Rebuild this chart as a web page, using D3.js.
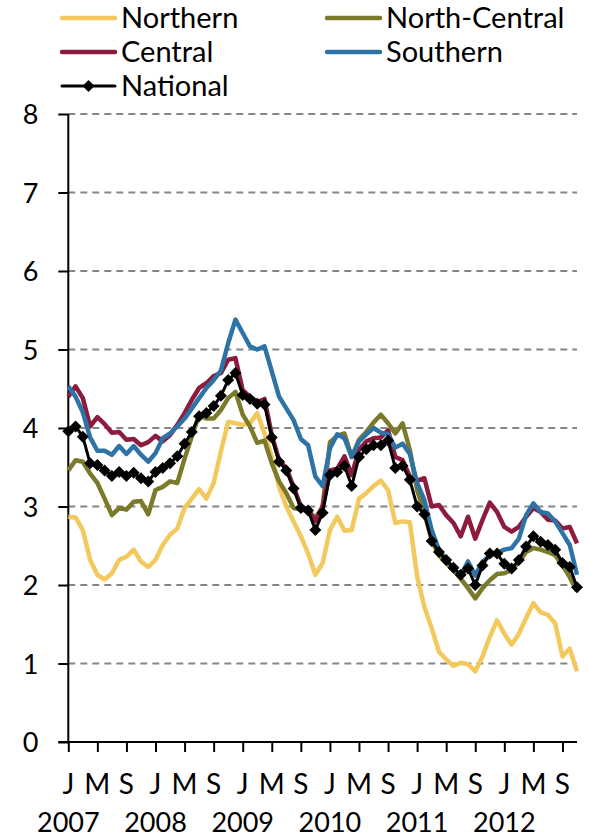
<!DOCTYPE html>
<html>
<head>
<meta charset="utf-8">
<script src="https://cdn.jsdelivr.net/npm/d3@7"></script>
<style>
  body { margin: 0; background: #fff; }
  text { font-family: Lato, "Open Sans", sans-serif; fill: #000; }
</style>
</head>
<body>
<div id="chart"></div>
<script>
// Monthly values, Jan 2007 - Nov 2012
var northern = [2.87, 2.86, 2.70, 2.32, 2.13, 2.07, 2.15, 2.32, 2.36, 2.45, 2.30, 2.23,
                2.32, 2.51, 2.64, 2.72, 2.98, 3.10, 3.22, 3.10, 3.30, 3.70, 4.08, 4.06,
                4.04, 4.06, 4.19, 3.93, 3.63, 3.25, 3.00, 2.81, 2.62, 2.40, 2.13, 2.28,
                2.70, 2.87, 2.69, 2.70, 3.10, 3.17, 3.26, 3.33, 3.21, 2.79, 2.81, 2.80,
                2.11, 1.72, 1.45, 1.15, 1.05, 0.97, 1.01, 0.99, 0.90, 1.09, 1.34, 1.55,
                1.38, 1.24, 1.38, 1.58, 1.77, 1.65, 1.62, 1.51, 1.09, 1.19, 0.90];
var northCentral = [3.46, 3.59, 3.57, 3.42, 3.30, 3.10, 2.89, 2.98, 2.96, 3.06, 3.07, 2.90,
                    3.21, 3.25, 3.32, 3.30, 3.61, 3.89, 4.17, 4.12, 4.12, 4.23, 4.38, 4.46,
                    4.17, 4.02, 3.81, 3.84, 3.55, 3.32, 3.17, 2.98, 2.96, 2.95, 2.85, 3.00,
                    3.82, 3.90, 3.93, 3.63, 3.85, 3.95, 4.07, 4.17, 4.06, 3.93, 4.06, 3.72,
                    3.21, 2.92, 2.57, 2.38, 2.28, 2.19, 2.08, 1.96, 1.83, 1.96, 2.06, 2.14,
                    2.15, 2.19, 2.29, 2.42, 2.47, 2.45, 2.42, 2.38, 2.25, 2.10, 1.92];
var central = [4.40, 4.53, 4.38, 4.02, 4.14, 4.05, 3.94, 3.95, 3.85, 3.86, 3.78, 3.82,
               3.90, 3.83, 3.91, 4.04, 4.19, 4.36, 4.51, 4.57, 4.66, 4.70, 4.87, 4.89,
               4.48, 4.40, 4.33, 4.37, 3.91, 3.59, 3.49, 3.25, 3.00, 2.96, 2.81, 3.00,
               3.46, 3.48, 3.64, 3.40, 3.72, 3.83, 3.87, 3.88, 3.97, 3.63, 3.59, 3.38,
               3.33, 3.36, 3.00, 3.02, 2.89, 2.79, 2.62, 2.87, 2.59, 2.83, 3.05, 2.93,
               2.74, 2.68, 2.74, 2.87, 2.98, 2.93, 2.83, 2.82, 2.72, 2.74, 2.53];
var southern = [4.53, 4.40, 4.20, 3.88, 3.71, 3.71, 3.66, 3.77, 3.67, 3.77, 3.66, 3.57,
                3.68, 3.87, 3.93, 4.02, 4.12, 4.25, 4.38, 4.51, 4.61, 4.73, 5.08, 5.38,
                5.21, 5.04, 5.00, 5.04, 4.72, 4.40, 4.25, 4.10, 3.86, 3.78, 3.38, 3.26,
                3.74, 3.92, 3.87, 3.63, 3.83, 3.92, 4.00, 3.94, 3.92, 3.75, 3.80, 3.67,
                3.30, 3.08, 2.70, 2.45, 2.32, 2.21, 2.12, 2.30, 2.12, 2.30, 2.37, 2.41,
                2.45, 2.47, 2.59, 2.89, 3.04, 2.93, 2.91, 2.81, 2.66, 2.51, 2.13];
var national = [3.96, 4.02, 3.89, 3.55, 3.53, 3.46, 3.39, 3.44, 3.39, 3.43, 3.36, 3.32,
                3.44, 3.49, 3.55, 3.64, 3.80, 3.95, 4.15, 4.19, 4.28, 4.41, 4.61, 4.70,
                4.42, 4.37, 4.31, 4.30, 3.88, 3.57, 3.46, 3.23, 2.98, 2.95, 2.70, 2.92,
                3.40, 3.44, 3.52, 3.26, 3.63, 3.73, 3.78, 3.78, 3.84, 3.49, 3.52, 3.34,
                3.00, 2.90, 2.56, 2.42, 2.32, 2.22, 2.13, 2.21, 2.00, 2.25, 2.40, 2.40,
                2.27, 2.21, 2.32, 2.49, 2.62, 2.55, 2.51, 2.45, 2.28, 2.23, 1.97];

var seriesNames = ["Northern", "North-Central", "Central", "Southern", "National"];
var monthLetters = ["J", "M", "S"];
var years = ["2007", "2008", "2009", "2010", "2011", "2012"];
var yTicks = [0, 1, 2, 3, 4, 5, 6, 7, 8];

var colors = ["#f3c85c", "#7b7a2a", "#8c1b3d", "#2e73a5", "#000000"];
var allSeries = [northern, northCentral, central, southern, national];

var width = 589,
    height = 838;

var svg = d3.select("#chart")
    .append("svg")
    .attr("width", width)
    .attr("height", height);

// Scales: month index on x, value on y
var x = d3.scaleLinear()
    .domain([0, northern.length - 1])
    .range([68.3, 577]);

var y = d3.scaleLinear()
    .domain([0, 8])
    .range([742, 114]);

// Dashed gridlines
svg.append("g")
    .selectAll("line")
    .data(yTicks.filter(d => d > 0))
    .enter()
    .append("line")
    .attr("x1", x(0))
    .attr("x2", x(northern.length - 1))
    .attr("y1", d => y(d))
    .attr("y2", d => y(d))
    .attr("stroke", "#868686")
    .attr("stroke-width", 2)
    .attr("stroke-dasharray", "7,5");

// Y axis
var yAxis = svg.append("g")
    .attr("transform", "translate(" + x(0) + ",0)")
    .call(d3.axisLeft(y).tickValues(yTicks).tickSize(10).tickPadding(20).tickFormat(d3.format("d")));

// X axis: tick every 4 months
var tickIdx = d3.range(0, northern.length, 4);
var xAxis = svg.append("g")
    .attr("transform", "translate(0," + y(0) + ")")
    .call(d3.axisBottom(x).tickValues(tickIdx).tickSize(10).tickFormat(""));

[yAxis, xAxis].forEach(function(ax) {
    ax.select(".domain").attr("stroke", "#000").attr("stroke-width", 2);
    ax.selectAll(".tick line").attr("stroke", "#000").attr("stroke-width", 2);
});
yAxis.select(".domain").attr("d", "M0," + y(8) + "V" + y(0));
xAxis.select(".domain").attr("d", "M" + (x(0) - 10) + ",0H" + x(northern.length - 1));

yAxis.selectAll(".tick text")
    .attr("font-size", 27)
    .attr("font-family", "Lato, sans-serif")
    .attr("fill", "#000")
    .attr("dy", "0.36em");

// Month letters and years under the axis
svg.append("g")
    .selectAll("text")
    .data(tickIdx)
    .enter()
    .append("text")
    .attr("x", d => x(d))
    .attr("y", 794)
    .attr("text-anchor", "middle")
    .style("font-size", "28px")
    .text((d, i) => monthLetters[i % 3]);

svg.append("g")
    .selectAll("text")
    .data(years)
    .enter()
    .append("text")
    .attr("x", (d, i) => x(i * 12))
    .attr("y", 832)
    .attr("text-anchor", "middle")
    .style("font-size", "27px")
    .text(d => d);

// Lines
var line = d3.line()
    .x((d, i) => x(i))
    .y(d => y(d));

svg.append("g")
    .selectAll("path")
    .data(allSeries)
    .enter()
    .append("path")
    .attr("d", line)
    .attr("fill", "none")
    .attr("stroke", (d, i) => colors[i])
    .attr("stroke-width", (d, i) => i == 4 ? 3 : 4.5)
    .attr("stroke-linejoin", "round");

// Diamond markers on the national line
var diamond = function(cx, cy, r) {
    return "M" + cx + "," + (cy - r) + "L" + (cx + r) + "," + cy + "L" + cx + "," + (cy + r) + "L" + (cx - r) + "," + cy + "Z";
};

svg.append("g")
    .selectAll("path")
    .data(national)
    .enter()
    .append("path")
    .attr("d", (d, i) => diamond(x(i), y(d), 6))
    .attr("fill", "#000");

// Legend
var legendPos = [[62, 18], [327, 18], [62, 52], [327, 52], [62, 86]];

var legend = svg.append("g")
    .selectAll("g")
    .data(seriesNames)
    .enter()
    .append("g")
    .attr("transform", (d, i) => "translate(" + legendPos[i][0] + "," + legendPos[i][1] + ")");

legend.append("line")
    .attr("x1", 0)
    .attr("x2", 53)
    .attr("stroke", (d, i) => colors[i])
    .attr("stroke-width", (d, i) => i == 4 ? 3 : 4.5)
    .attr("stroke-linecap", "round");

legend.filter(d => d == "National")
    .append("path")
    .attr("d", diamond(26.5, 0, 6))
    .attr("fill", "#000");

legend.append("text")
    .attr("x", 59)
    .attr("dy", "0.36em")
    .style("font-size", "29px")
    .text(d => d);
</script>
</body>
</html>
